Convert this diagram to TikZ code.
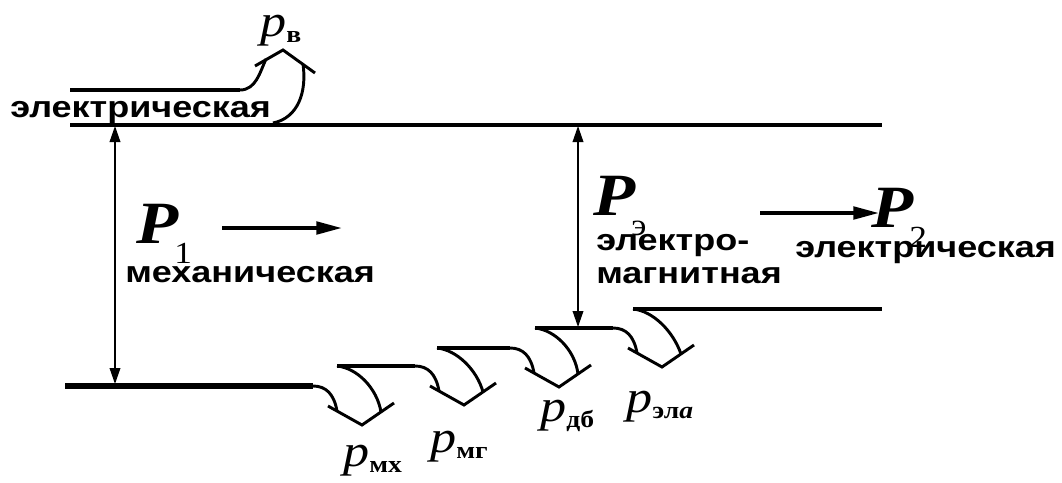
\documentclass[tikz,border=0pt]{standalone}
\usepackage{fontspec}
\usetikzlibrary{arrows.meta,calc}
\newfontfamily\sansb[FakeStretch=1.2]{Liberation Sans}
\newfontfamily\serf[FakeStretch=1.15]{Liberation Serif}
\newcommand{\lbltext}[1]{{\sansb\bfseries\fontsize{22.5}{22.5}\selectfont #1}}
\newcommand{\bigP}[1]{{\serf\bfseries\itshape\fontsize{45}{45}\selectfont P}\kern-3pt\raisebox{-15pt}{\serf\fontsize{23}{23}\selectfont #1}}
\newcommand{\smallp}[1]{{\serf\itshape\fontsize{34}{34}\selectfont p}\raisebox{-5pt}{\serf\bfseries\fontsize{18}{18}\selectfont #1}}
\newcommand{\lossarr}[2]{%
  \draw[flow] (#1) .. controls ($(#1)+(13,0)$) and ($(#1)+(21,8)$) .. ($(#1)+(24,25)$);
  \draw[flow] (#2) .. controls ($(#2)+(20,2)$) and ($(#2)+(40,22)$) .. ($(#1)+(68,26)$);
  \draw[flow] ($(#1)+(15,20)$) -- ($(#1)+(49,39)$) -- ($(#1)+(81,17)$);
}
\begin{document}
\begin{tikzpicture}[x=0.75pt,y=-0.75pt,
  mainline/.style={line width=2.6pt},
  thickline/.style={line width=4.4pt},
  flow/.style={line width=2.2pt},
  dim/.style={line width=1.1pt,{Triangle[length=12pt,width=8pt]}-{Triangle[length=12pt,width=8pt]}},
  pow/.style={line width=3.6pt,-{Triangle[length=20pt,width=9pt]}},
  lbl/.style={inner sep=0pt,anchor=base west}]
\useasboundingbox[fill=white] (0,0) rectangle (1062,482);
% top lines
\coordinate (tl) at (70,125); \coordinate (tr) at (882,125);
\draw[mainline] (tl) -- (tr);
\coordinate (ul) at (70,90); \coordinate (ule) at (240,90); \coordinate (ulc) at (266,59);
\draw[mainline] (ul) -- (ule);
\draw[flow] (ule) .. controls (256,90) and (260,72) .. (ulc);
\coordinate (rs) at (273,123); \coordinate (re) at (303,64);
\draw[flow] (rs) .. controls (298,118) and (307,92) .. (re);
\coordinate (hl) at (255,66); \coordinate (hv) at (283,50); \coordinate (hr) at (315,73);
\draw[flow] (hl) -- (hv) -- (hr);
% bottom staircase
\coordinate (bl) at (65,386); \coordinate (A1) at (313,386);
\coordinate (B1) at (337,366); \coordinate (A2) at (415,366);
\coordinate (B2) at (437,348); \coordinate (A3) at (510,348);
\coordinate (B3) at (535,328); \coordinate (A4) at (613,328);
\coordinate (B4) at (633,309); \coordinate (br) at (882,309);
\draw[thickline] (bl) -- (A1);
\draw[mainline] (B1) -- (A2);
\draw[mainline] (B2) -- (A3);
\draw[mainline] (B3) -- (A4);
\draw[mainline] (B4) -- (br);
\lossarr{A1}{B1}
\lossarr{A2}{B2}
\lossarr{A3}{B3}
\lossarr{A4}{B4}
% dimension arrows
\coordinate (d1t) at (115,126); \coordinate (d1b) at (115,384);
\coordinate (d2t) at (578,126); \coordinate (d2b) at (578,327);
\draw[dim] (d1t) -- (d1b);
\draw[dim] (d2t) -- (d2b);
% power arrows
\coordinate (p1s) at (222,228); \coordinate (p1e) at (343,228);
\coordinate (p2s) at (760,213); \coordinate (p2e) at (880,213);
\draw[pow] (p1s) -- (p1e);
\draw[pow] (p2s) -- (p2e);
% labels
\node[lbl] (t1) at (10,117) {\lbltext{электрическая}};
\node[lbl] (t2) at (125,282) {\lbltext{механическая}};
\node[lbl] (t3) at (596,250) {\lbltext{электро-}};
\node[lbl] (t4) at (596,283) {\lbltext{магнитная}};
\node[lbl] (t5) at (795,257) {\lbltext{электрическая}};
\node[lbl] (P1) at (136,243) {\bigP{1}};
\node[lbl] (Pe) at (593,215) {\bigP{э}};
\node[lbl] (P2) at (871,227) {\bigP{2}};
\node[lbl] (pv) at (260,36) {\smallp{в}};
\node[lbl] (pmx) at (343,466) {\smallp{мх}};
\node[lbl] (pmg) at (430,452) {\smallp{мг}};
\node[lbl] (pdb) at (540,421) {\smallp{дб}};
\node[lbl] (pel) at (626,412) {\smallp{эл\textit{a}}};
\end{tikzpicture}
\end{document}
